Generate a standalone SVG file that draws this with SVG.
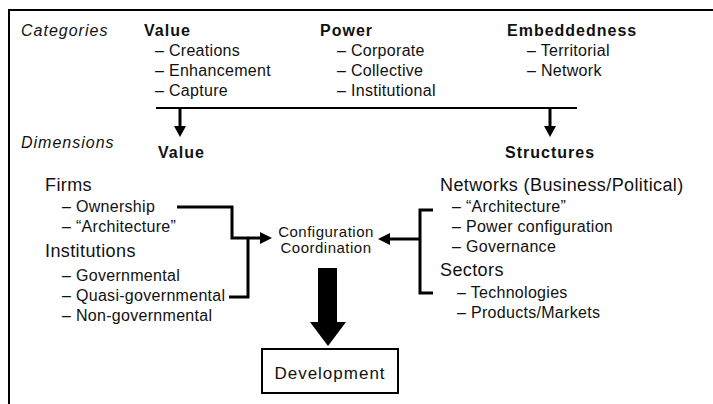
<svg xmlns="http://www.w3.org/2000/svg" width="713" height="404" viewBox="0 0 713 404">
<style>
text{font-family:"Liberation Sans",Arial,sans-serif;fill:#111}
.hd{font-size:16px;font-weight:bold;letter-spacing:1px}
.it{font-size:16px;font-style:italic;letter-spacing:1px}
.sm{font-size:16px;letter-spacing:0.3px}
.md{font-size:18px;letter-spacing:0.4px}
.cf{font-size:15px;letter-spacing:0.5px}
.ln{fill:none;stroke:#000;stroke-width:3}
.thin{fill:none;stroke:#000;stroke-width:2}
</style>
<rect width="713" height="404" fill="#fff"/>
<path class="thin" d="M9,404 V10 H713"/>
<g id="categories">
<text class="it" x="21" y="36">Categories</text>
</g>
<g id="cat-value">
<text class="hd" x="144" y="36">Value</text>
<text class="sm" x="155" y="56">– Creations</text>
<text class="sm" x="155" y="76">– Enhancement</text>
<text class="sm" x="155" y="96">– Capture</text>
</g>
<g id="cat-power">
<text class="hd" x="320" y="36">Power</text>
<text class="sm" x="337" y="56">– Corporate</text>
<text class="sm" x="337" y="76">– Collective</text>
<text class="sm" x="337" y="96">– Institutional</text>
</g>
<g id="cat-embeddedness">
<text class="hd" x="507" y="36">Embeddedness</text>
<text class="sm" x="527" y="56">– Territorial</text>
<text class="sm" x="527" y="76">– Network</text>
</g>
<g id="dimensions">
<text class="it" x="21" y="148">Dimensions</text>
</g>
<g id="dim-value">
<text class="hd" x="158" y="158">Value</text>
</g>
<g id="dim-structures">
<text class="hd" x="505" y="158">Structures</text>
</g>
<g id="firms">
<text class="md" x="45" y="191">Firms</text>
<text class="sm" x="62" y="212">– Ownership</text>
<text class="sm" x="62" y="232">– “Architecture”</text>
</g>
<g id="institutions">
<text class="md" x="45" y="257">Institutions</text>
<text class="sm" x="62" y="281">– Governmental</text>
<text class="sm" x="62" y="301">– Quasi-governmental</text>
<text class="sm" x="62" y="321">– Non-governmental</text>
</g>
<g id="networks">
<text class="md" x="440" y="191">Networks (Business/Political)</text>
<text class="sm" x="452" y="212">– “Architecture”</text>
<text class="sm" x="452" y="232">– Power configuration</text>
<text class="sm" x="452" y="252">– Governance</text>
</g>
<g id="sectors">
<text class="md" x="440" y="276">Sectors</text>
<text class="sm" x="457" y="298">– Technologies</text>
<text class="sm" x="457" y="318">– Products/Markets</text>
</g>
<g id="configuration">
<text class="cf" x="326" y="237" text-anchor="middle">Configuration</text>
<text class="cf" x="326" y="253" text-anchor="middle">Coordination</text>
</g>
<g id="development">
<rect x="262" y="349" width="136" height="44" fill="#fff" stroke="#000" stroke-width="2"/>
<text x="330" y="379" text-anchor="middle" style="font-size:17px;letter-spacing:1px">Development</text>
</g>
<g id="connectors">
<path class="thin" d="M156,108 H577"/>
<path d="M180,108 V127" stroke="#000" stroke-width="3"/>
<path d="M174,126 L186,126 L180,137 Z" fill="#000"/>
<path d="M550,108 V127" stroke="#000" stroke-width="3"/>
<path d="M544,126 L556,126 L550,137 Z" fill="#000"/>
<path class="ln" d="M177,207 H232 V238 H262"/>
<path d="M260,232 L272,238 L260,244 Z" fill="#000"/>
<path class="ln" d="M229,297 H248 V238"/>
<path class="ln" d="M433,210 H420 V293 H433"/>
<path class="ln" d="M420,239 H388"/>
<path d="M390,233 L378,239 L390,245 Z" fill="#000"/>
<path d="M318,268 H337 V322 H346 L328,346 L310,322 H318 Z" fill="#000"/>
</g>
</svg>
